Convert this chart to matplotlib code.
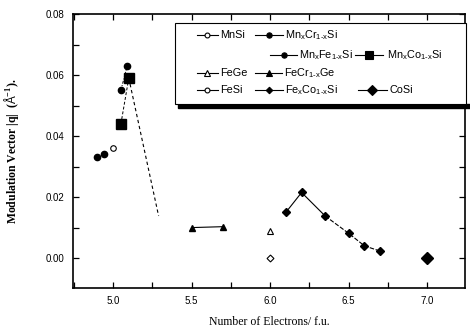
import matplotlib
matplotlib.use("Agg")
import matplotlib.pyplot as plt
from matplotlib.patches import Rectangle
from matplotlib.ticker import MultipleLocator, FormatStrFormatter

plt.rcParams['font.family'] = ['Liberation Sans', 'DejaVu Sans']
plt.rcParams['mathtext.fontset'] = 'custom'
plt.rcParams['mathtext.rm'] = 'Liberation Sans'
plt.rcParams['mathtext.it'] = 'Liberation Sans'
plt.rcParams['mathtext.default'] = 'regular'

# ---- data ----
mnsi_x = [5.0]
mnsi_y = [0.036]
mncr_x = [4.90, 4.945]
mncr_y = [0.033, 0.034]
mnfe_x = [5.05, 5.09]
mnfe_y = [0.055, 0.063]
mnco_x = [5.05, 5.10]
mnco_y = [0.044, 0.059]
guide_x = [5.10, 5.29]
guide_y = [0.059, 0.0138]
fege_x = [6.0]
fege_y = [0.009]
fecrge_x = [5.5, 5.70]
fecrge_y = [0.010, 0.0103]
fesi_x = [6.0]
fesi_y = [0.0]
fecosi_x = [6.10, 6.20, 6.35, 6.50, 6.60, 6.70]
fecosi_y = [0.015, 0.0215, 0.0138, 0.0081, 0.0040, 0.0023]
cosi_x = [7.0]
cosi_y = [0.0]

xticks = [5.0, 5.5, 6.0, 6.5, 7.0]
yticks = [0.00, 0.02, 0.04, 0.06, 0.08]

fig = plt.figure(figsize=(4.7, 3.35), dpi=100)
ax = fig.add_axes([73/470, 1-288/335, 392/470, 274/335])

k = 'black'
ax.plot(mnsi_x, mnsi_y, 'o', mfc='white', mec=k, ms=4, mew=0.8)
ax.plot(mncr_x, mncr_y, 'o', color=k, ms=4.5, ls='none')
ax.plot(mnfe_x, mnfe_y, 'o', color=k, ms=4.5, ls=(0, (3, 1.5, 1, 1.5)), lw=0.7)
ax.plot(mnco_x, mnco_y, 's', color=k, ms=6.5, ls=(0, (3, 2)), lw=0.7)
ax.plot(guide_x, guide_y, color=k, ls=(0, (3, 2.5)), lw=0.8)
ax.plot(fege_x, fege_y, '^', mfc='white', mec=k, ms=4.5, mew=0.8)
ax.plot(fecrge_x, fecrge_y, '^-', color=k, ms=5, lw=0.8)
ax.plot(fesi_x, fesi_y, 'D', mfc='white', mec=k, ms=3.5, mew=0.8)
ax.plot(fecosi_x[:3], fecosi_y[:3], '-', color=k, lw=0.8)
ax.plot(fecosi_x[2:], fecosi_y[2:], '-', color=k, lw=0.8, ls=(0, (4, 1.5)))
ax.plot(fecosi_x, fecosi_y, 'D', color=k, ms=3.8, ls='none')
ax.plot(cosi_x, cosi_y, 'D', color=k, ms=6.5)

ax.set_xlim(4.745, 7.24)
ax.set_ylim(-0.0098, 0.08)
ax.set_xticks(xticks)
ax.set_yticks(yticks)
ax.xaxis.set_minor_locator(MultipleLocator(0.25))
ax.yaxis.set_minor_locator(MultipleLocator(0.01))
ax.xaxis.set_major_formatter(FormatStrFormatter('%.1f'))
ax.yaxis.set_major_formatter(FormatStrFormatter('%.2f'))
ax.tick_params(which='both', direction='in', top=True, right=True, length=4, width=0.9, labelsize=7, pad=6)
for s in ax.spines.values():
    s.set_linewidth(1.2)

ax.set_xlabel('Number of Electrons/ f.u.', family='Liberation Serif', fontsize=8.5, labelpad=7)
ax.set_ylabel(r'Modulation Vector |q|  ($\mathrm{\AA}^{-1}$).', family='Liberation Serif',
              fontsize=8.5, fontweight='bold', labelpad=18)

# ---- legend (drawn manually to match the irregular layout) ----
def px(x):
    return (x - 73) / 392
def py(y):
    return (288 - y) / 274

ax.add_patch(Rectangle((px(178), py(107.5)), px(470) - px(178), py(104) - py(107.5),
                       transform=ax.transAxes, color='black', clip_on=False, zorder=5))
ax.add_patch(Rectangle((px(175), py(104)), px(466) - px(175), py(23) - py(104),
                       transform=ax.transAxes, facecolor='white', edgecolor='black',
                       lw=0.8, clip_on=False, zorder=6))

entries = [
    (197, 218, 35, 'o', 'white', 3.5, 'MnSi', 220),
    (255, 283, 35, 'o', 'black', 3.8, r'Mn$_x$Cr$_{1\text{-}x}$Si', 285),
    (270, 297, 55, 'o', 'black', 3.8, r'Mn$_x$Fe$_{1\text{-}x}$Si', 299),
    (355, 383, 55, 's', 'black', 5.5, r'Mn$_x$Co$_{1\text{-}x}$Si', 387),
    (197, 218, 73, '^', 'white', 4.0, 'FeGe', 220),
    (255, 282, 73, '^', 'black', 4.0, r'FeCr$_{1\text{-}x}$Ge', 284),
    (197, 218, 90, 'o', 'white', 3.5, 'FeSi', 220),
    (255, 283, 90, 'D', 'black', 3.3, r'Fe$_x$Co$_{1\text{-}x}$Si', 285),
    (358, 387, 90, 'D', 'black', 5.5, 'CoSi', 390),
]
for x0, x1, yy, m, fc, ms, label, tx in entries:
    ax.plot([px(x0), px(x1)], [py(yy), py(yy)], color='black', lw=0.8,
            transform=ax.transAxes, clip_on=False, zorder=7)
    ax.plot([px((x0 + x1) / 2)], [py(yy)], marker=m, mfc=fc, mec='black', ms=ms, mew=0.8,
            transform=ax.transAxes, clip_on=False, zorder=8)
    ax.text(px(tx), py(yy), label, transform=ax.transAxes, fontsize=7.8, va='center',
            ha='left', zorder=8)

fig.savefig('out.png', dpi=100)
